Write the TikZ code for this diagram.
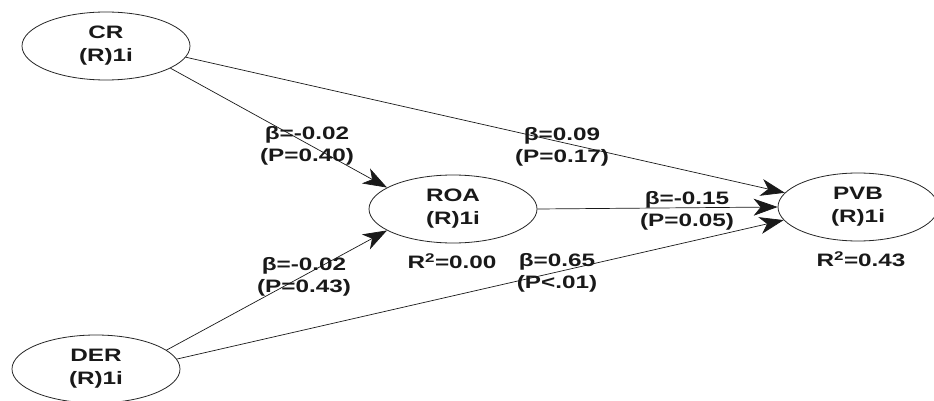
\documentclass[tikz,border=0pt]{standalone}
\usepackage{fontspec}
\setmainfont{Liberation Sans}[FakeStretch=1.35]
\usetikzlibrary{shapes.geometric,arrows.meta}
\begin{document}
\begin{tikzpicture}[x=1pt,y=-1pt,
  lv/.style={ellipse,draw=black!85,line width=0.8pt,minimum width=168pt,minimum height=68pt,
    inner sep=0pt,align=center,text=black!90,font=\bfseries\fontsize{18}{23}\selectfont},
  lbl/.style={align=center,inner sep=0pt,text=black!90,font=\bfseries\fontsize{18}{22}\selectfont},
  edgearrow/.style={draw=black!90,line width=0.7pt,-{Stealth[length=24pt,width=17pt,inset=7pt]}}
]
\fill[white] (0,0) rectangle (934,401);
\useasboundingbox (0,0) rectangle (934,401);

\node[lv] (CR)  at (106,46)  {CR\\(R)1i};
\node[lv] (ROA) at (453,209) {ROA\\(R)1i};
\node[lv,minimum width=160pt] (PVB) at (858,207) {PVB\\(R)1i};
\node[lv] (DER) at (96,369)  {DER\\(R)1i};

\draw[edgearrow] (CR.-19) -- (ROA.162);
\draw[edgearrow] (CR.-8) -- (PVB.169);
\draw[edgearrow] (ROA.0) -- (PVB.180);
\draw[edgearrow] (DER.15) -- (ROA.198);
\draw[edgearrow] (DER.7) -- (PVB.190);

\node[lbl] (l1) at (307,146) {β=-0.02\\(P=0.40)};
\node[lbl] (l2) at (562,147) {β=0.09\\(P=0.17)};
\node[lbl] (l3) at (687,211) {β=-0.15\\(P=0.05)};
\node[lbl] (l4) at (304,277) {β=-0.02\\(P=0.43)};
\node[lbl] (l5) at (557,273) {β=0.65\\(P<.01)};
\node[lbl] (r1) at (452,261) {R\textsuperscript{2}=0.00};
\node[lbl] (r2) at (861,259) {R\textsuperscript{2}=0.43};
\end{tikzpicture}
\end{document}
